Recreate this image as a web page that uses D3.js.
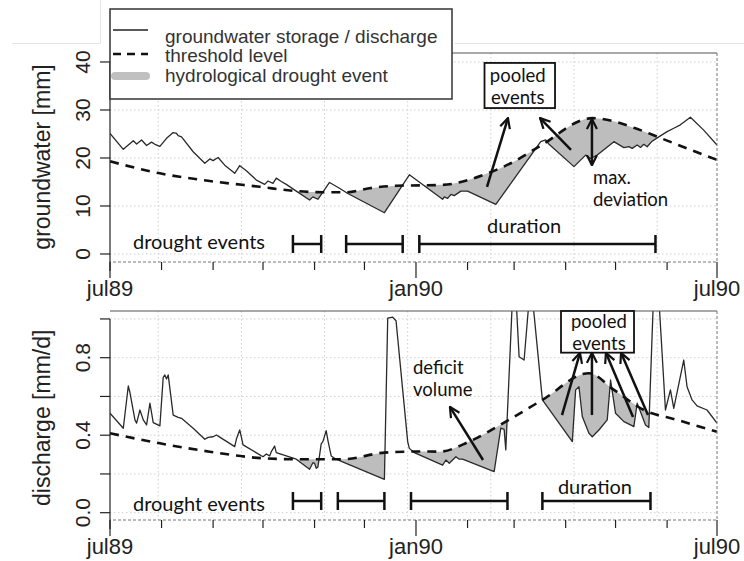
<!DOCTYPE html>
<html>
<head>
<meta charset="utf-8">
<script src="https://cdn.jsdelivr.net/npm/d3@7"></script>
<style>
  body { margin: 0; background: #fff; }
  svg { display: block; }
</style>
</head>
<body>
<div id="chart"></div>
<script>
// groundwater storage [mm]
const gwStorage = [
  ["1989-07-01", 25.1], ["1989-07-09", 21.8], ["1989-07-15", 23.6], ["1989-07-17", 22.9],
  ["1989-07-20", 23.75], ["1989-07-23", 22.6], ["1989-07-26", 23.3], ["1989-07-28", 22.85],
  ["1989-07-31", 22.4], ["1989-08-04", 24.1], ["1989-08-08", 25.3], ["1989-08-10", 25.1],
  ["1989-08-11", 24.65], ["1989-08-13", 24.4], ["1989-08-20", 21.3], ["1989-08-27", 18.9],
  ["1989-08-30", 19.8], ["1989-09-01", 19.45], ["1989-09-04", 20.1], ["1989-09-08", 18.5],
  ["1989-09-14", 16.8], ["1989-09-17", 18.4], ["1989-09-21", 17.35], ["1989-09-27", 15.4],
  ["1989-10-02", 14.5], ["1989-10-04", 15.2], ["1989-10-07", 14.7], ["1989-10-09", 15.8],
  ["1989-10-12", 15.1], ["1989-10-15", 14.5], ["1989-10-21", 13.1], ["1989-10-29", 11.25],
  ["1989-10-31", 11.9], ["1989-11-03", 11.4], ["1989-11-10", 14.9], ["1989-11-16", 13.7],
  ["1989-11-21", 12.6], ["1989-12-13", 8.6], ["1989-12-28", 16.5], ["1990-01-17", 11.4],
  ["1990-01-18", 11.9], ["1990-01-20", 11.6], ["1990-01-22", 12.4], ["1990-01-24", 12.15],
  ["1990-01-28", 13.1], ["1990-02-01", 13.1], ["1990-02-18", 10.35], ["1990-03-17", 23.4],
  ["1990-03-20", 23.75], ["1990-03-22", 22.85], ["1990-04-06", 18.2], ["1990-04-13", 20.6],
  ["1990-04-16", 19.9], ["1990-04-20", 20.6], ["1990-04-30", 23.4], ["1990-05-06", 22.15],
  ["1990-05-09", 22.35], ["1990-05-11", 22.0], ["1990-05-14", 22.7], ["1990-05-16", 22.2],
  ["1990-05-18", 22.85], ["1990-05-20", 22.35], ["1990-05-23", 23.5], ["1990-05-27", 24.4],
  ["1990-06-01", 25.5], ["1990-06-05", 26.2], ["1990-06-09", 26.9], ["1990-06-15", 28.5],
  ["1990-06-23", 25.8], ["1990-07-01", 22.7]
];
const gwThreshold = [
  ["1989-07-01", 19.3], ["1989-07-31", 16.8], ["1989-08-30", 15.2], ["1989-09-29", 14.0],
  ["1989-10-21", 13.1], ["1989-11-08", 12.85], ["1989-11-20", 12.85], ["1989-12-04", 13.7],
  ["1989-12-20", 14.2], ["1990-01-17", 14.4], ["1990-02-13", 16.8], ["1990-02-27", 18.9],
  ["1990-03-16", 22.35], ["1990-04-17", 28.3], ["1990-05-16", 25.8], ["1990-05-27", 24.3],
  ["1990-06-13", 22.0], ["1990-07-01", 19.6]
];
const gwEvents = [
  ["1989-10-19", "1989-11-05"], ["1989-11-20", "1989-12-24"], ["1990-01-03", "1990-05-25"]
];

// discharge [mm/d]
const qDischarge = [
  ["1989-07-01", 0.513], ["1989-07-09", 0.436], ["1989-07-12", 0.654], ["1989-07-13", 0.62],
  ["1989-07-16", 0.479], ["1989-07-17", 0.462], ["1989-07-19", 0.53], ["1989-07-21", 0.479],
  ["1989-07-23", 0.453], ["1989-07-25", 0.565], ["1989-07-27", 0.465], ["1989-07-31", 0.448],
  ["1989-08-02", 0.699], ["1989-08-03", 0.711], ["1989-08-04", 0.69], ["1989-08-05", 0.711],
  ["1989-08-08", 0.504], ["1989-08-11", 0.492], ["1989-08-13", 0.487], ["1989-08-20", 0.436],
  ["1989-08-27", 0.379], ["1989-08-29", 0.389], ["1989-09-01", 0.392], ["1989-09-03", 0.401],
  ["1989-09-05", 0.39], ["1989-09-14", 0.341], ["1989-09-15", 0.38], ["1989-09-17", 0.427],
  ["1989-09-18", 0.39], ["1989-09-19", 0.35], ["1989-10-01", 0.289], ["1989-10-03", 0.303],
  ["1989-10-05", 0.293], ["1989-10-06", 0.315], ["1989-10-08", 0.344], ["1989-10-09", 0.31],
  ["1989-10-15", 0.293], ["1989-10-21", 0.276], ["1989-10-29", 0.224], ["1989-10-31", 0.258],
  ["1989-11-01", 0.255], ["1989-11-02", 0.229], ["1989-11-03", 0.235], ["1989-11-05", 0.355],
  ["1989-11-06", 0.367], ["1989-11-08", 0.423], ["1989-11-09", 0.375], ["1989-11-11", 0.293],
  ["1989-11-14", 0.276], ["1989-11-20", 0.255], ["1989-12-13", 0.172], ["1989-12-15", 1.004],
  ["1989-12-18", 1.009], ["1989-12-20", 0.991], ["1989-12-24", 0.634], ["1989-12-27", 0.367],
  ["1989-12-28", 0.332], ["1989-12-31", 0.31], ["1990-01-17", 0.246], ["1990-01-19", 0.272],
  ["1990-01-21", 0.255], ["1990-01-23", 0.272], ["1990-01-25", 0.289], ["1990-01-27", 0.276],
  ["1990-01-29", 0.276], ["1990-02-17", 0.212], ["1990-02-21", 0.436], ["1990-02-23", 0.43],
  ["1990-02-24", 0.324], ["1990-03-01", 1.3], ["1990-03-04", 0.805], ["1990-03-07", 0.788],
  ["1990-03-11", 1.2], ["1990-03-18", 0.582], ["1990-04-05", 0.367], ["1990-04-07", 0.634],
  ["1990-04-09", 0.65], ["1990-04-11", 0.496], ["1990-04-15", 0.41], ["1990-04-17", 0.392],
  ["1990-04-21", 0.427], ["1990-04-26", 0.479], ["1990-04-28", 0.685], ["1990-05-01", 0.513],
  ["1990-05-06", 0.47], ["1990-05-10", 0.453], ["1990-05-12", 0.444], ["1990-05-14", 0.565],
  ["1990-05-16", 0.521], ["1990-05-19", 0.453], ["1990-05-21", 0.44], ["1990-05-25", 1.4],
  ["1990-05-31", 0.53], ["1990-06-03", 0.634], ["1990-06-05", 0.539], ["1990-06-11", 0.788],
  ["1990-06-13", 0.65], ["1990-06-16", 0.582], ["1990-06-19", 0.551], ["1990-06-25", 0.53],
  ["1990-07-01", 0.462]
];
const qThreshold = [
  ["1989-07-01", 0.41], ["1989-07-31", 0.358], ["1989-08-30", 0.315], ["1989-10-01", 0.281],
  ["1989-10-21", 0.276], ["1989-11-18", 0.276], ["1989-12-13", 0.31], ["1990-01-03", 0.316],
  ["1990-01-15", 0.315], ["1990-02-02", 0.367], ["1990-02-24", 0.47], ["1990-03-18", 0.582],
  ["1990-04-15", 0.72], ["1990-04-30", 0.634], ["1990-05-18", 0.53], ["1990-06-07", 0.479],
  ["1990-07-01", 0.418]
];
const qEvents = [
  ["1989-10-19", "1989-11-05"], ["1989-11-15", "1989-12-13"],
  ["1989-12-29", "1990-02-25"], ["1990-03-18", "1990-05-22"]
];

const gwTicks = [0, 10, 20, 30, 40];
const qTicks = [0, 0.2, 0.4, 0.6, 0.8, 1.0];
const qTickLabels = [0, 0.4, 0.8];
const xLabelDates = ["1989-07-01", "1990-01-01", "1990-07-01"];
const gridDays = [29, 79, 129, 179, 229, 279, 329];

const legendItems = ["groundwater storage / discharge", "threshold level", "hydrological drought event"];

// annotations: [day offset from jul89, value]; size 20 = single line, 18.5 = stacked lines
const gwArrows = [[[226.7, 13.96], [239.3, 28.3]], [[277.2, 21.67], [258.6, 28.3]]];
const gwDoubleArrow = [[289.8, 28.1], [289.8, 18.5]];
const gwNotes = [
  {day: 13.8, v: 2.5, text: "drought events", anchor: "start", size: 20},
  {day: 249, v: 5.8, text: "duration", anchor: "middle", size: 20},
  {day: 290.4, v: 15.9, text: "max.", anchor: "start", size: 18.5},
  {day: 290.4, v: 11.4, text: "deviation", anchor: "start", size: 18.5}
];
const gwBox = {d0: 225.2, d1: 267.6, v0: 39.8, v1: 30.4, day: 245.2, lines: [["pooled", 37.1], ["events", 32.6]]};

const qArrows = [
  [[224.3, 0.272], [204.4, 0.546]],
  [[271.8, 0.504], [282.6, 0.825]],
  [[289.8, 0.504], [289.8, 0.825]],
  [[314.5, 0.494], [298.2, 0.825]],
  [[323.5, 0.504], [307.3, 0.825]]
];
const qNotes = [
  {day: 13.8, v: 0.045, text: "drought events", anchor: "start", size: 20},
  {day: 291.6, v: 0.133, text: "duration", anchor: "middle", size: 20},
  {day: 182.2, v: 0.75, text: "deficit", anchor: "start", size: 18.5},
  {day: 182.2, v: 0.637, text: "volume", anchor: "start", size: 18.5}
];
const qBox = {d0: 271.2, d1: 315.1, v0: 1.041, v1: 0.826, day: 294, lines: [["pooled", 0.985], ["events", 0.874]]};

const parse = d3.timeParse("%Y-%m-%d");
const start = parse("1989-07-01");
const end = parse("1990-07-01");
const day = n => new Date(+start + n * 864e5);

const svg = d3.select("#chart").append("svg")
  .attr("width", 744)
  .attr("height", 561)
  .style("font-family", "'Liberation Sans', Arial, sans-serif");

const defs = svg.append("defs");
defs.append("marker")
  .attr("id", "arrow")
  .attr("viewBox", "0 0 12 12")
  .attr("refX", 11).attr("refY", 6)
  .attr("markerWidth", 12).attr("markerHeight", 12)
  .attr("markerUnits", "userSpaceOnUse")
  .attr("orient", "auto-start-reverse")
  .append("path")
  .attr("d", "M1,1 L11,6 L1,11")
  .attr("fill", "none")
  .attr("stroke", "#111")
  .attr("stroke-width", 2.2);

// faint frame lines of the original screenshot
svg.append("path")
  .attr("d", "M12,43.5H100.5V0 M455,43.5H744")
  .attr("fill", "none")
  .attr("stroke", "#e4e4e4");

const x = d3.scaleTime().domain([start, end]).range([110, 717]);
const left = 110, right = 717;

const panels = [
  {id: "gw", top: 53, bottom: 262, domain: [-1.67, 41.87], ticks: gwTicks, labels: gwTicks,
   fmt: d3.format("d"), title: "groundwater [mm]", series: gwStorage, thr: gwThreshold,
   events: gwEvents, arrows: gwArrows, dbl: gwDoubleArrow, notes: gwNotes, box: gwBox},
  {id: "q", top: 311, bottom: 520, domain: [-0.0377, 1.041], ticks: qTicks, labels: qTickLabels,
   fmt: d3.format(".1f"), title: "discharge [mm/d]", series: qDischarge, thr: qThreshold,
   events: qEvents, arrows: qArrows, dbl: null, notes: qNotes, box: qBox}
];

const noteFont = "Lato, 'Open Sans', sans-serif";

panels.forEach(p => {
  const y = d3.scaleLinear().domain(p.domain).range([p.bottom, p.top]);
  const line = p.series.map(d => ({date: parse(d[0]), v: d[1]}));
  const thr = p.thr.map(d => ({date: parse(d[0]), v: d[1]}));
  const g = svg.append("g");

  // dotted grid
  g.selectAll(".hgrid").data(p.ticks).enter().append("line")
    .attr("x1", left).attr("x2", right)
    .attr("y1", d => y(d)).attr("y2", d => y(d))
    .attr("stroke", "#cfcfcf").attr("stroke-dasharray", "1.5,2.5");
  g.selectAll(".vgrid").data(gridDays).enter().append("line")
    .attr("x1", d => x(day(d))).attr("x2", d => x(day(d)))
    .attr("y1", p.top).attr("y2", p.bottom)
    .attr("stroke", "#cfcfcf").attr("stroke-dasharray", "1.5,2.5");

  // plot clip
  defs.append("clipPath").attr("id", "plot-" + p.id)
    .append("rect").attr("x", left).attr("y", p.top)
    .attr("width", right - left).attr("height", p.bottom - p.top);

  // region below the threshold
  defs.append("clipPath").attr("id", "below-" + p.id)
    .append("path")
    .attr("d", d3.area().x(d => x(d.date)).y0(p.bottom).y1(d => y(d.v)).curve(d3.curveMonotoneX)(thr));

  // drought deficit: above the series and below the threshold
  g.append("path")
    .attr("d", d3.area().x(d => x(d.date)).y0(p.top).y1(d => y(d.v))(line))
    .attr("clip-path", `url(#below-${p.id})`)
    .attr("fill", "#bdbdbd");

  g.append("path")
    .attr("d", d3.line().x(d => x(d.date)).y(d => y(d.v))(line))
    .attr("clip-path", `url(#plot-${p.id})`)
    .attr("fill", "none").attr("stroke", "#2a2a2a").attr("stroke-width", 1.3)
    .attr("stroke-linejoin", "round");

  g.append("path")
    .attr("d", d3.line().x(d => x(d.date)).y(d => y(d.v)).curve(d3.curveMonotoneX)(thr))
    .attr("fill", "none").attr("stroke", "#111").attr("stroke-width", 2.6)
    .attr("stroke-dasharray", "9,7");

  // plot box
  g.append("line").attr("x1", left).attr("x2", right).attr("y1", p.top).attr("y2", p.top)
    .attr("stroke", "#555").attr("stroke-width", 1.2);
  g.append("path")
    .attr("d", `M${right},${p.top}V${p.bottom}H${left}`)
    .attr("fill", "none").attr("stroke", "#777").attr("stroke-dasharray", "3,2");

  // y axis
  g.append("line").attr("x1", left).attr("x2", left)
    .attr("y1", y(p.ticks[p.ticks.length - 1])).attr("y2", p.bottom + 9)
    .attr("stroke", "#222").attr("stroke-width", 1.2);
  g.selectAll(".ytick").data(p.ticks).enter().append("line")
    .attr("x1", left - 10).attr("x2", left)
    .attr("y1", d => y(d)).attr("y2", d => y(d))
    .attr("stroke", "#222").attr("stroke-width", 1.2);
  g.selectAll(".ylab").data(p.labels).enter().append("text")
    .attr("transform", d => `translate(82,${y(d)}) rotate(-90)`)
    .attr("dy", "0.36em")
    .attr("text-anchor", "middle")
    .attr("font-size", 21).attr("fill", "#222")
    .text(p.fmt);
  g.append("text")
    .attr("transform", `translate(42,${(y(p.ticks[0]) + y(p.ticks[p.ticks.length - 1])) / 2 + (p.id === "gw" ? -1 : 2)}) rotate(-90)`)
    .attr("dy", "0.33em")
    .attr("text-anchor", "middle")
    .attr("font-size", 23).attr("fill", "#222")
    .text(p.title);

  // x axis: monthly ticks, labelled every half year
  const majors = xLabelDates.map(parse);
  const isMajor = d => majors.some(m => +m === +d);
  g.selectAll(".xtick").data(d3.timeMonth.range(start, d3.timeDay.offset(end, 1))).enter().append("line")
    .attr("x1", d => x(d)).attr("x2", d => x(d))
    .attr("y1", p.bottom).attr("y2", d => p.bottom + (isMajor(d) ? 16 : 8))
    .attr("stroke", "#222").attr("stroke-width", 1.2);
  g.selectAll(".xlab").data(majors).enter().append("text")
    .attr("x", d => x(d)).attr("y", p.bottom + 26)
    .attr("dy", "0.36em")
    .attr("text-anchor", "middle")
    .attr("font-size", 22).attr("fill", "#222")
    .text(d => d3.timeFormat("%b%y")(d).toLowerCase());

  // drought durations
  const barY = y(p.id === "gw" ? 2.08 : 0.06);
  p.events.forEach(ev => {
    const a = x(parse(ev[0])), b = x(parse(ev[1]));
    g.append("path")
      .attr("d", `M${a},${barY - 9}V${barY + 9}M${a},${barY}H${b}M${b},${barY - 9}V${barY + 9}`)
      .attr("fill", "none").attr("stroke", "#111").attr("stroke-width", 2.5);
  });

  // arrows
  p.arrows.forEach(a => {
    g.append("line")
      .attr("x1", x(day(a[0][0]))).attr("y1", y(a[0][1]))
      .attr("x2", x(day(a[1][0]))).attr("y2", y(a[1][1]))
      .attr("stroke", "#111").attr("stroke-width", 2.5)
      .attr("marker-end", "url(#arrow)");
  });
  if (p.dbl) {
    g.append("line")
      .attr("x1", x(day(p.dbl[0][0]))).attr("y1", y(p.dbl[0][1]))
      .attr("x2", x(day(p.dbl[1][0]))).attr("y2", y(p.dbl[1][1]))
      .attr("stroke", "#111").attr("stroke-width", 2.5)
      .attr("marker-start", "url(#arrow)")
      .attr("marker-end", "url(#arrow)");
  }

  // annotation text
  g.selectAll(".note").data(p.notes).enter().append("text")
    .attr("x", d => x(day(d.day))).attr("y", d => y(d.v))
    .attr("dy", "0.35em")
    .attr("text-anchor", d => d.anchor)
    .attr("font-family", noteFont)
    .attr("font-size", d => d.size).attr("fill", "#111")
    .text(d => d.text);

  const bx = p.box;
  g.append("rect")
    .attr("x", x(day(bx.d0))).attr("y", y(bx.v0))
    .attr("width", x(day(bx.d1)) - x(day(bx.d0)))
    .attr("height", y(bx.v1) - y(bx.v0))
    .attr("fill", "#fff").attr("stroke", "#111").attr("stroke-width", 1.8);
  bx.lines.forEach(l => {
    g.append("text")
      .attr("x", x(day(bx.day))).attr("y", y(l[1]))
      .attr("dy", "0.35em").attr("text-anchor", "middle")
      .attr("font-family", noteFont)
      .attr("font-size", 18.5).attr("fill", "#111")
      .text(l[0]);
  });
});

// legend
const legend = svg.append("g");
legend.append("rect")
  .attr("x", 110).attr("y", 9).attr("width", 342).attr("height", 90)
  .attr("fill", "#fff").attr("stroke", "#333").attr("stroke-width", 1.5);
const symY = [30, 54, 76];
const textY = [43, 62, 81.5];
legend.append("line").attr("x1", 113).attr("x2", 148).attr("y1", symY[0]).attr("y2", symY[0])
  .attr("stroke", "#222").attr("stroke-width", 1.5);
legend.append("line").attr("x1", 113).attr("x2", 148).attr("y1", symY[1]).attr("y2", symY[1])
  .attr("stroke", "#111").attr("stroke-width", 2.5).attr("stroke-dasharray", "8,6");
legend.append("line").attr("x1", 115).attr("x2", 146).attr("y1", symY[2]).attr("y2", symY[2])
  .attr("stroke", "#c0c0c0").attr("stroke-width", 8).attr("stroke-linecap", "round");
legend.selectAll(".ltext").data(legendItems).enter().append("text")
  .attr("x", 165).attr("y", (d, i) => textY[i])
  .attr("font-size", 19).attr("fill", "#333")
  .text(d => d);
</script>
</body>
</html>
